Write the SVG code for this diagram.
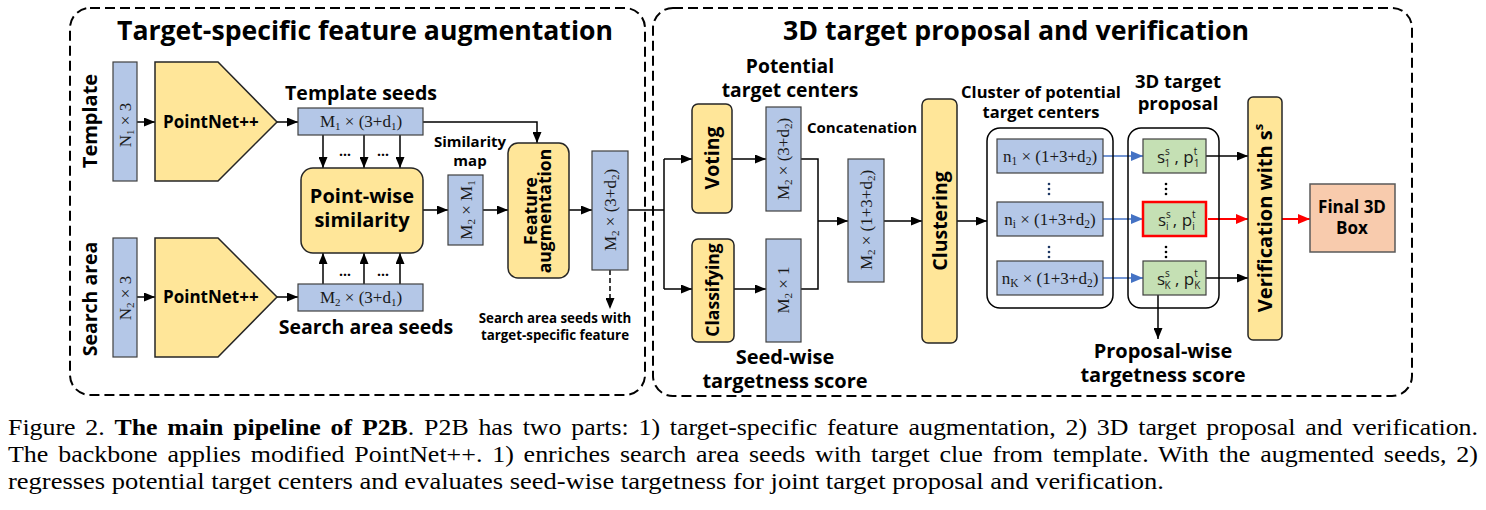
<svg xmlns="http://www.w3.org/2000/svg" width="1486" height="510" viewBox="0 0 1486 510">
<style>
.b{fill:#B4C7E7;stroke:#404040;stroke-width:1.2}
.y{fill:#FFE699;stroke:#262626;stroke-width:1.5}
.g{fill:#C5E0B4;stroke:#404040;stroke-width:1.2}
.c{fill:none;stroke:#000;stroke-width:1.5}
.fb{fill:#F8CBAD;stroke:#595959;stroke-width:1.5}
.frame{fill:none;stroke:#000;stroke-width:2;stroke-dasharray:10 5}
.h{font-family:"Open Sans","Noto Sans","DejaVu Sans",sans-serif;font-weight:bold;fill:#000}
.m{text-anchor:middle}
.s{font-family:"Liberation Serif","Times New Roman",serif;fill:#1a1a1a;font-size:17px}
.gs{font-family:"Open Sans","Noto Sans",sans-serif;fill:#1a1a1a;font-size:17px}
.cap{font-family:"Liberation Serif","Times New Roman",serif;fill:#000;font-size:23.5px}
.ln{fill:none;stroke:#000;stroke-width:1.5}
.bl{fill:none;stroke:#4472C4;stroke-width:1.6}
.rd{fill:none;stroke:#FF0000;stroke-width:2}
.dot{fill:#000}
</style>
<defs>
<marker id="ak" markerUnits="userSpaceOnUse" markerWidth="11" markerHeight="9" refX="11" refY="4.5" orient="auto"><path d="M0,0 L11,4.5 L0,9 z" fill="#000"/></marker>
<marker id="ab" markerUnits="userSpaceOnUse" markerWidth="12" markerHeight="10" refX="12" refY="5" orient="auto"><path d="M0,0 L12,5 L0,10 z" fill="#4472C4"/></marker>
<marker id="ar" markerUnits="userSpaceOnUse" markerWidth="12" markerHeight="10" refX="12" refY="5" orient="auto"><path d="M0,0 L12,5 L0,10 z" fill="#FF0000"/></marker>
</defs>
<rect x="0" y="0" width="1486" height="510" fill="#fff"/>

<g id="frames">
<rect class="frame" x="70" y="8" width="575" height="387" rx="20"/>
<rect class="frame" x="653" y="8" width="759" height="388" rx="20"/>
<text class="h m" x="365" y="40" font-size="26.7" textLength="496" lengthAdjust="spacingAndGlyphs">Target-specific feature augmentation</text>
<text class="h m" x="1016" y="40" font-size="26.7" textLength="466" lengthAdjust="spacingAndGlyphs">3D target proposal and verification</text>
</g>

<g id="connectors">
<path class="ln" d="M137,122 H155" marker-end="url(#ak)"/>
<path class="ln" d="M277,122 H298" marker-end="url(#ak)"/>
<path class="ln" d="M137,297 H155" marker-end="url(#ak)"/>
<path class="ln" d="M277,297 H298" marker-end="url(#ak)"/>
<path class="ln" d="M323,135 V168" marker-end="url(#ak)"/>
<path class="ln" d="M364,135 V168" marker-end="url(#ak)"/>
<path class="ln" d="M400,135 V168" marker-end="url(#ak)"/>
<path class="ln" d="M323,284 V253" marker-end="url(#ak)"/>
<path class="ln" d="M364,284 V253" marker-end="url(#ak)"/>
<path class="ln" d="M400,284 V253" marker-end="url(#ak)"/>
<path class="ln" d="M423,122 H537 V143" marker-end="url(#ak)"/>
<path class="ln" d="M423,210 H448" marker-end="url(#ak)"/>
<path class="ln" d="M483,210 H508" marker-end="url(#ak)"/>
<path class="ln" d="M569,210 H592" marker-end="url(#ak)"/>
<path class="ln" d="M610,270 V309" stroke-dasharray="5 3" marker-end="url(#ak)"/>
<path class="ln" d="M628,210 H664"/>
<path class="ln" d="M664,159 V289"/>
<path class="ln" d="M664,159 H692" marker-end="url(#ak)"/>
<path class="ln" d="M664,289 H692" marker-end="url(#ak)"/>
<path class="ln" d="M732,159 H766" marker-end="url(#ak)"/>
<path class="ln" d="M734,289 H766" marker-end="url(#ak)"/>
<path class="ln" d="M801,159 H818 V289 H801"/>
<path class="ln" d="M818,221 H848" marker-end="url(#ak)"/>
<path class="ln" d="M884,221 H922" marker-end="url(#ak)"/>
<path class="ln" d="M957,221 H987" marker-end="url(#ak)"/>
<path class="bl" d="M1103,156 H1143" marker-end="url(#ab)"/>
<path class="bl" d="M1103,219 H1143" marker-end="url(#ab)"/>
<path class="bl" d="M1103,278 H1143" marker-end="url(#ab)"/>
<path class="ln" d="M1206,156 H1248" marker-end="url(#ak)"/>
<path class="rd" d="M1208,219 H1248" marker-end="url(#ar)"/>
<path class="ln" d="M1206,278 H1248" marker-end="url(#ak)"/>
<path class="rd" d="M1282,219 H1310" marker-end="url(#ar)"/>
<path class="ln" d="M1158,294 V339" marker-end="url(#ak)"/>
</g>

<g id="template-label"><text class="h m" font-size="20" transform="translate(90,121) rotate(-90)" y="7">Template</text></g>
<g id="search-label"><text class="h m" font-size="19.5" transform="translate(90,299) rotate(-90)" y="7">Search area</text></g>

<g id="n1">
<rect class="b" x="113" y="62" width="24" height="119"/>
<text class="s m" transform="translate(125,125) rotate(-90)" y="6">N<tspan font-size="11" dy="3">1</tspan><tspan dy="-3"> × 3</tspan></text>
</g>
<g id="n2">
<rect class="b" x="113" y="238" width="24" height="119"/>
<text class="s m" transform="translate(125,298) rotate(-90)" y="6">N<tspan font-size="11" dy="3">2</tspan><tspan dy="-3"> × 3</tspan></text>
</g>

<g id="pointnet-template">
<polygon class="y" points="155,62 218,62 277,122 218,181 155,181"/>
<text class="h" x="163" y="128" font-size="17">PointNet++</text>
</g>
<g id="pointnet-search">
<polygon class="y" points="155,238 218,238 277,297 218,357 155,357"/>
<text class="h" x="163" y="303" font-size="17">PointNet++</text>
</g>

<g id="template-seeds">
<rect class="b" x="298" y="108" width="125" height="27"/>
<text class="s m" x="361" y="127">M<tspan font-size="11" dy="3">1</tspan><tspan dy="-3"> × (3+d</tspan><tspan font-size="11" dy="3">1</tspan><tspan dy="-3">)</tspan></text>
<text class="h m" x="361" y="100" font-size="19.5">Template seeds</text>
</g>
<g id="search-seeds">
<rect class="b" x="298" y="284" width="125" height="27"/>
<text class="s m" x="361" y="303">M<tspan font-size="11" dy="3">2</tspan><tspan dy="-3"> × (3+d</tspan><tspan font-size="11" dy="3">1</tspan><tspan dy="-3">)</tspan></text>
<text class="h m" x="366" y="334" font-size="19.5">Search area seeds</text>
</g>
<g id="dots-left">
<text class="h m" x="345" y="156" font-size="14">…</text>
<text class="h m" x="383" y="156" font-size="14">…</text>
<text class="h m" x="345" y="276" font-size="14">…</text>
<text class="h m" x="383" y="276" font-size="14">…</text>
</g>

<g id="similarity">
<rect class="y" x="301" y="168" width="122" height="85" rx="12"/>
<text class="h m" x="362" y="203" font-size="20">Point-wise</text>
<text class="h m" x="362" y="227" font-size="20">similarity</text>
</g>
<g id="similarity-map">
<rect class="b" x="448" y="175" width="35" height="70"/>
<text class="s m" transform="translate(466,210) rotate(-90)" y="6">M<tspan font-size="11" dy="3">2</tspan><tspan dy="-3"> × M</tspan><tspan font-size="11" dy="3">1</tspan></text>
<text class="h m" x="470" y="147" font-size="15">Similarity</text>
<text class="h m" x="470" y="166" font-size="15">map</text>
</g>
<g id="feature-aug">
<rect class="y" x="508" y="143" width="61" height="135" rx="10"/>
<text class="h m" font-size="17.5" transform="translate(538,211) rotate(-90)"><tspan x="0" y="-1">Feature</tspan><tspan x="0" y="13">augmentation</tspan></text>
</g>
<g id="aug-seeds">
<rect class="b" x="592" y="151" width="36" height="119"/>
<text class="s m" transform="translate(610,210) rotate(-90)" y="6">M<tspan font-size="11" dy="3">2</tspan><tspan dy="-3"> × (3+d</tspan><tspan font-size="11" dy="3">2</tspan><tspan dy="-3">)</tspan></text>
<text class="h m" x="555" y="323" font-size="13.3">Search area seeds with</text>
<text class="h m" x="555" y="340" font-size="13.3">target-specific feature</text>
</g>

<g id="voting">
<rect class="y" x="692" y="104" width="40" height="109" rx="6"/>
<text class="h m" font-size="19.5" transform="translate(712,158) rotate(-90)" y="7">Voting</text>
</g>
<g id="classifying">
<rect class="y" x="692" y="239" width="42" height="103" rx="6"/>
<text class="h m" font-size="17.5" transform="translate(713,290) rotate(-90)" y="6">Classifying</text>
</g>
<g id="centers">
<rect class="b" x="766" y="107" width="35" height="104"/>
<text class="s m" transform="translate(783,159) rotate(-90)" y="6">M<tspan font-size="11" dy="3">2</tspan><tspan dy="-3"> × (3+d</tspan><tspan font-size="11" dy="3">2</tspan><tspan dy="-3">)</tspan></text>
<text class="h m" x="790" y="73" font-size="19.3">Potential</text>
<text class="h m" x="790" y="97" font-size="19.3">target centers</text>
</g>
<g id="scores">
<rect class="b" x="766" y="239" width="35" height="103"/>
<text class="s m" transform="translate(783,290) rotate(-90)" y="6">M<tspan font-size="11" dy="3">2</tspan><tspan dy="-3"> × 1</tspan></text>
<text class="h m" x="785" y="364" font-size="20">Seed-wise</text>
<text class="h m" x="785" y="388" font-size="20">targetness score</text>
</g>
<g id="concat">
<rect class="b" x="848" y="159" width="36" height="123"/>
<text class="s m" transform="translate(866,220) rotate(-90)" y="6">M<tspan font-size="11" dy="3">2</tspan><tspan dy="-3"> × (1+3+d</tspan><tspan font-size="11" dy="3">2</tspan><tspan dy="-3">)</tspan></text>
<text class="h m" x="862" y="133" font-size="15">Concatenation</text>
</g>
<g id="clustering">
<rect class="y" x="922" y="99" width="35" height="244" rx="6"/>
<text class="h m" font-size="19.5" transform="translate(939.5,221) rotate(-90)" y="7">Clustering</text>
</g>

<g id="cluster">
<rect class="c" x="987" y="128" width="126" height="180" rx="13"/>
<text class="h m" x="1041" y="98" font-size="16.5">Cluster of potential</text>
<text class="h m" x="1041" y="118" font-size="16.5">target centers</text>
<rect class="b" x="997" y="139" width="106" height="34"/>
<text class="s m" x="1050" y="162" font-size="18">n<tspan font-size="11.5" dy="3">1</tspan><tspan dy="-3"> × (1+3+d</tspan><tspan font-size="11.5" dy="3">2</tspan><tspan dy="-3">)</tspan></text>
<rect class="b" x="997" y="202" width="106" height="34"/>
<text class="s m" x="1050" y="225" font-size="18">n<tspan font-size="11.5" dy="3">i</tspan><tspan dy="-3"> × (1+3+d</tspan><tspan font-size="11.5" dy="3">2</tspan><tspan dy="-3">)</tspan></text>
<rect class="b" x="997" y="261" width="106" height="34"/>
<text class="s m" x="1050" y="284" font-size="18">n<tspan font-size="11.5" dy="3">K</tspan><tspan dy="-3"> × (1+3+d</tspan><tspan font-size="11.5" dy="3">2</tspan><tspan dy="-3">)</tspan></text>
<circle cx="1049" cy="184" r="1.3" fill="#1F3864"/><circle cx="1049" cy="189" r="1.3" fill="#1F3864"/><circle cx="1049" cy="194" r="1.3" fill="#1F3864"/>
<circle cx="1049" cy="247" r="1.3" fill="#1F3864"/><circle cx="1049" cy="252" r="1.3" fill="#1F3864"/><circle cx="1049" cy="257" r="1.3" fill="#1F3864"/>
</g>

<g id="proposal">
<rect class="c" x="1128" y="128" width="91" height="180" rx="13"/>
<text class="h m" x="1178" y="88" font-size="18.5">3D target</text>
<text class="h m" x="1178" y="110" font-size="18.5">proposal</text>
<rect class="g" x="1143" y="139" width="63" height="34"/>
<text class="gs" x="1157" y="163">s<tspan font-size="10" dy="-8">s</tspan><tspan font-size="10" dx="-5.5" dy="12">1</tspan><tspan dy="-4"> , p</tspan><tspan font-size="10" dy="-8">t</tspan><tspan font-size="10" dx="-3.5" dy="12">1</tspan></text>
<rect class="g" x="1143" y="202" width="63" height="34" style="stroke:#FF0000;stroke-width:2.5"/>
<text class="gs" x="1158" y="226">s<tspan font-size="10" dy="-8">s</tspan><tspan font-size="10" dx="-5" dy="12">i</tspan><tspan dy="-4"> , p</tspan><tspan font-size="10" dy="-8">t</tspan><tspan font-size="10" dx="-3.3" dy="12">i</tspan></text>
<rect class="g" x="1143" y="261" width="63" height="34"/>
<text class="gs" x="1157" y="285">s<tspan font-size="10" dy="-8">s</tspan><tspan font-size="10" dx="-5.5" dy="12">K</tspan><tspan dy="-4"> , p</tspan><tspan font-size="10" dy="-8">t</tspan><tspan font-size="10" dx="-3.5" dy="12">K</tspan></text>
<circle class="dot" cx="1166" cy="184" r="1.3"/><circle class="dot" cx="1166" cy="189" r="1.3"/><circle class="dot" cx="1166" cy="194" r="1.3"/>
<circle class="dot" cx="1166" cy="247" r="1.3"/><circle class="dot" cx="1166" cy="252" r="1.3"/><circle class="dot" cx="1166" cy="257" r="1.3"/>
<text class="h m" x="1163" y="358" font-size="20">Proposal-wise</text>
<text class="h m" x="1163" y="382" font-size="20">targetness score</text>
</g>

<g id="verification">
<rect class="y" x="1248" y="97" width="34" height="243" rx="5"/>
<text class="h m" font-size="20" transform="translate(1265,218) rotate(-90)" y="7">Verification with s<tspan font-size="13" dy="-9">s</tspan></text>
</g>
<g id="final-box">
<rect class="fb" x="1310" y="184" width="85" height="68"/>
<text class="h m" x="1352" y="213" font-size="17">Final 3D</text>
<text class="h m" x="1352" y="234" font-size="17">Box</text>
</g>

<g id="caption">
<text class="cap" x="8" y="435" word-spacing="3" textLength="1470" lengthAdjust="spacingAndGlyphs">Figure 2. <tspan font-weight="bold">The main pipeline of P2B</tspan>. P2B has two parts: 1) target-specific feature augmentation, 2) 3D target proposal and verification.</text>
<text class="cap" x="8" y="462" word-spacing="3" textLength="1470" lengthAdjust="spacingAndGlyphs">The backbone applies modified PointNet++. 1) enriches search area seeds with target clue from template. With the augmented seeds, 2)</text>
<text class="cap" x="8" y="489" textLength="1156" lengthAdjust="spacingAndGlyphs">regresses potential target centers and evaluates seed-wise targetness for joint target proposal and verification.</text>
</g>
</svg>
